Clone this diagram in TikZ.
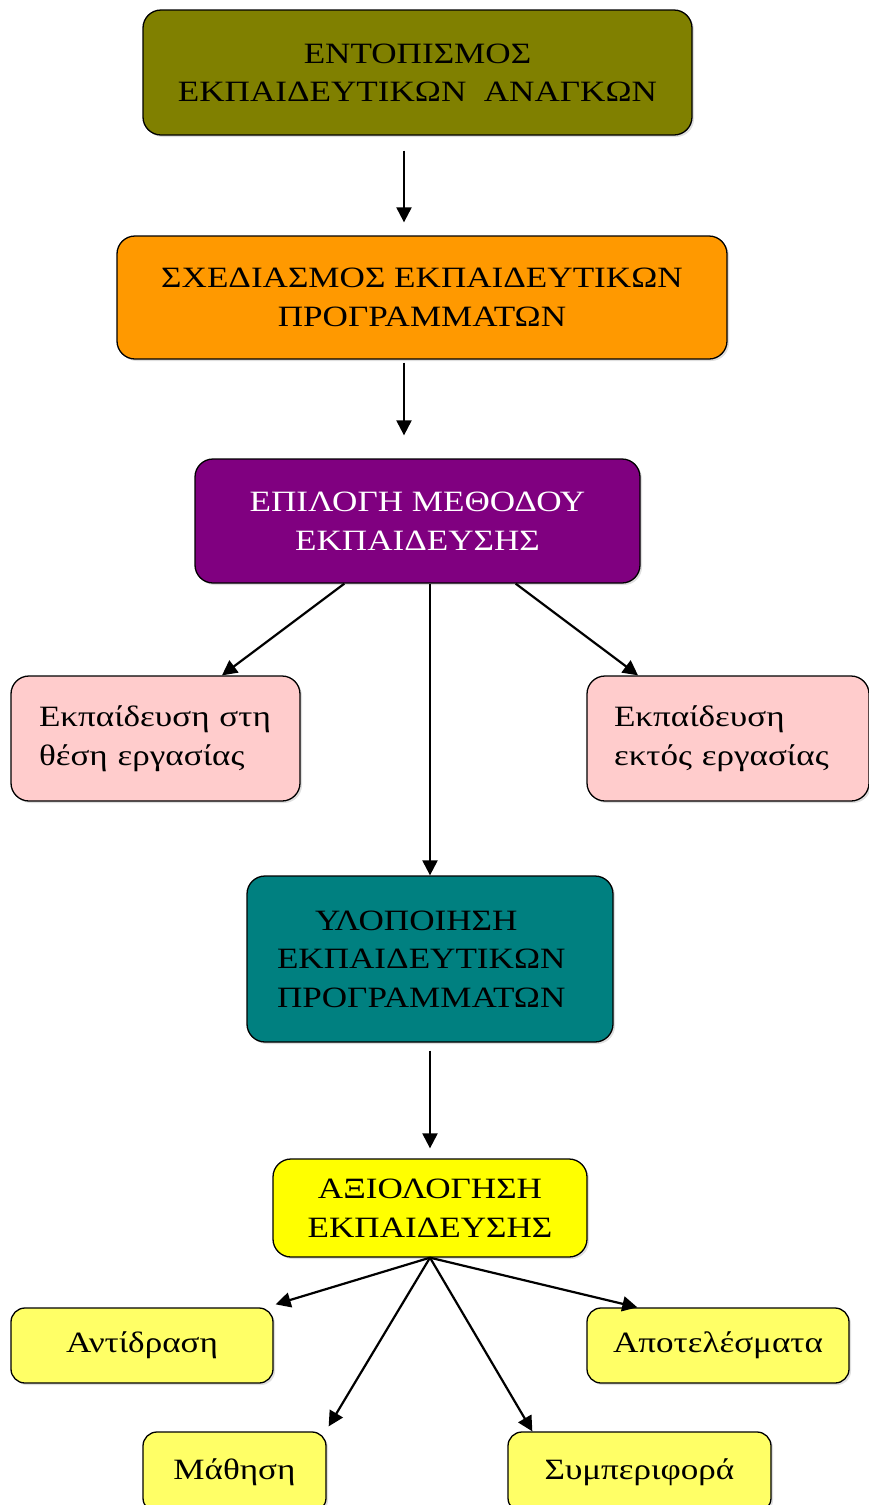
\documentclass[tikz,border=0pt]{standalone}
\usepackage{fontspec}
\setmainfont[FakeStretch=1.19]{Liberation Serif}
\usetikzlibrary{arrows.meta,shadows}
\definecolor{olivebox}{HTML}{808000}
\definecolor{orangebox}{HTML}{FF9900}
\definecolor{purplebox}{HTML}{800080}
\definecolor{pinkbox}{HTML}{FFCCCC}
\definecolor{tealbox}{HTML}{008080}
\definecolor{yellowbox}{HTML}{FFFF00}
\definecolor{lightyellowbox}{HTML}{FFFF66}
\newcommand{\boxfont}{\fontsize{29.5}{38.5}\selectfont}
\tikzset{
  box/.style={draw=black, line width=1.3pt, rounded corners=18pt, align=center,
    inner sep=0pt, font=\boxfont,
    drop shadow={shadow xshift=2pt, shadow yshift=-2pt, opacity=0.25}},
  arr/.style={line width=2.2pt, -{Triangle[length=15pt,width=15pt]}}
}
\begin{document}
\begin{tikzpicture}[x=1pt,y=-1pt]
\useasboundingbox (0,0) rectangle (869,1505);
\fill[white] (0,0) rectangle (869,1505);

\node[box, fill=olivebox, minimum width=549pt, minimum height=125pt] (b1) at (417.5,72.5)
  {ΕΝΤΟΠΙΣΜΟΣ\\ΕΚΠΑΙΔΕΥΤΙΚΩΝ\ \ ΑΝΑΓΚΩΝ};
\node[box, fill=orangebox, minimum width=610pt, minimum height=123pt] (b2) at (422,297.5)
  {ΣΧΕΔΙΑΣΜΟΣ ΕΚΠΑΙΔΕΥΤΙΚΩΝ\\ΠΡΟΓΡΑΜΜΑΤΩΝ};
\node[box, fill=purplebox, text=white, minimum width=445pt, minimum height=124pt] (b3) at (417.5,521)
  {ΕΠΙΛΟΓΗ ΜΕΘΟΔΟΥ\\ΕΚΠΑΙΔΕΥΣΗΣ};
\node[box, fill=pinkbox, align=left, minimum width=289pt, minimum height=125pt,
  text width=233pt] (p1) at (155.5,738.5)
  {Εκπαίδευση στη\\θέση εργασίας};
\node[box, fill=pinkbox, align=left, minimum width=282pt, minimum height=125pt,
  text width=228pt] (p2) at (728,738.5)
  {Εκπαίδευση\\εκτός εργασίας};
\node[box, fill=tealbox, align=left, minimum width=366pt, minimum height=166pt,
  text width=306pt] (b4) at (430,959)
  {\hspace*{38pt}ΥΛΟΠΟΙΗΣΗ\\ΕΚΠΑΙΔΕΥΤΙΚΩΝ\\ΠΡΟΓΡΑΜΜΑΤΩΝ};
\node[box, fill=yellowbox, minimum width=314pt, minimum height=98pt] (b5) at (430,1208)
  {ΑΞΙΟΛΟΓΗΣΗ\\ΕΚΠΑΙΔΕΥΣΗΣ};
\node[box, fill=lightyellowbox, rounded corners=14pt, minimum width=262pt, minimum height=75pt] (e1) at (142,1345.5)
  {Αντίδραση};
\node[box, fill=lightyellowbox, rounded corners=14pt, minimum width=262pt, minimum height=75pt] (e2) at (718,1345.5)
  {Αποτελέσματα};
\node[box, fill=lightyellowbox, rounded corners=14pt, minimum width=183pt, minimum height=80pt] (e3) at (234.5,1472)
  {Μάθηση};
\node[box, fill=lightyellowbox, rounded corners=14pt, minimum width=263pt, minimum height=80pt] (e4) at (639.5,1472)
  {Συμπεριφορά};

\draw[arr, shorten <=15pt, shorten >=13pt] ([xshift=-13.5pt]b1.south) -- ([xshift=-13.5pt]b1.south |- b2.north);
\draw[arr, shorten <=3pt, shorten >=23pt] ([xshift=-18pt]b2.south) -- ([xshift=-18pt]b2.south |- b3.north);
\draw[arr] ([xshift=150pt]b3.south west) -- ([xshift=66.5pt]p1.north);
\draw[arr] ([xshift=-125pt]b3.south east) -- ([xshift=-90pt]p2.north);
\draw[arr] (b4.north |- b3.south) -- (b4.north);
\draw[arr, shorten <=8pt, shorten >=10pt] (b4.south) -- (b5.north);
\draw[arr] (b5.south) -- ([xshift=2pt,yshift=3pt]e1.north east);
\draw[arr] (b5.south) -- ([xshift=51pt]e2.north west);
\draw[arr] (b5.south) -- ([xshift=2pt,yshift=5pt]e3.north east);
\draw[arr] (b5.south) -- ([xshift=25pt]e4.north west);
\end{tikzpicture}
\end{document}
